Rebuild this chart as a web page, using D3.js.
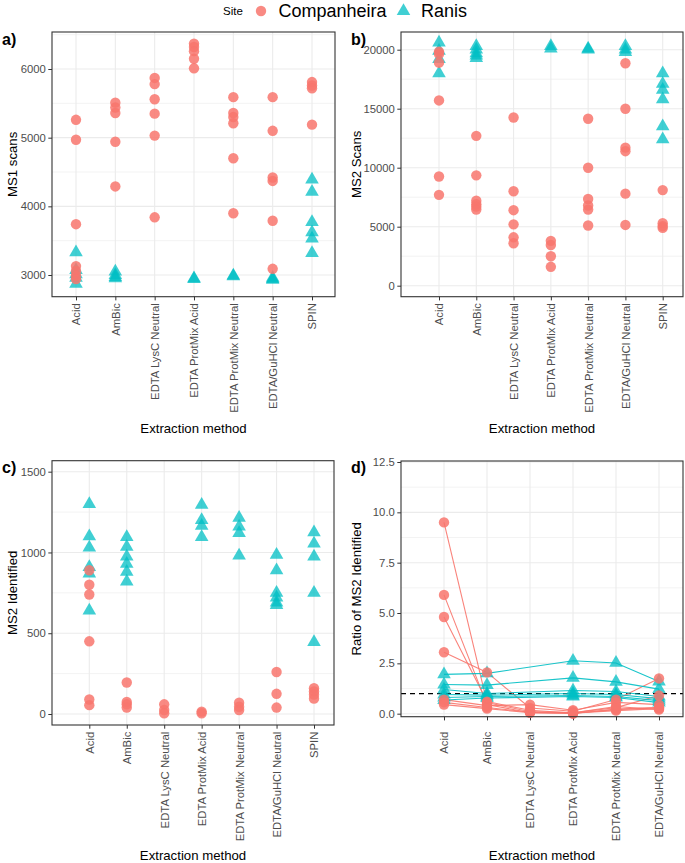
<!DOCTYPE html>
<html lang="en">
<head>
<meta charset="UTF-8" />
<title>Extraction methods</title>
<script src="https://d3js.org/d3.v7.min.js"></script>
<style>
  body { margin: 0; background: #fff; }
  svg text { font-family: "Liberation Sans", Arial, sans-serif; }
  .tick text { fill: #4d4d4d; font-size: 11.3px; }
  .tick line { stroke: #333; }
  .domain { display: none; }
</style>
</head>
<body>
<script>
const methods = ["Acid", "AmBic", "EDTA LysC Neutral", "EDTA ProtMix Acid", "EDTA ProtMix Neutral", "EDTA/GuHCl Neutral", "SPIN"];
const ratioMethods = methods.slice(0, 6);
const sites = ["Companheira", "Ranis"];
const colors = ["#F8766D", "#00BFC4"];

// a) MS1 scans, one list per method
const ms1Comp = [
  [5260, 4970, 3740, 3130, 3060, 2990, 2940],
  [5510, 5440, 5360, 4940, 4290],
  [5870, 5780, 5560, 5350, 5030, 3840],
  [6370, 6320, 6260, 6150, 6010],
  [5590, 5360, 5300, 5210, 4700, 3900],
  [5590, 5100, 4420, 4370, 3790, 3090],
  [5810, 5760, 5720, 5190]
];
const ms1Ranis = [
  [3330, 3070, 3010, 2960, 2870],
  [3050, 3000, 2970, 2950],
  [],
  [2950, 2940],
  [2990, 2980],
  [2960, 2940, 2930],
  [4390, 4210, 3770, 3620, 3530, 3320]
];

// b) MS2 scans
const ms2Comp = [
  [19840, 19640, 18900, 15700, 9250, 7700],
  [12700, 9350, 7200, 6900, 6700, 6450],
  [14250, 8000, 6400, 5200, 4100, 3600],
  [3800, 3450, 2500, 1600],
  [14150, 10000, 7350, 6800, 6450, 5100],
  [18850, 15000, 11700, 11400, 7800, 5150],
  [8100, 5300, 5050, 4900]
];
const ms2Ranis = [
  [20600, 19900, 19200, 18000],
  [20300, 20000, 19700, 19500, 19300],
  [],
  [20300, 20100],
  [20100, 20000],
  [20300, 20000, 19800],
  [18000, 17100, 16600, 15800, 13500, 12400]
];

// c) MS2 identified
const idComp = [
  [890, 800, 740, 450, 90, 55],
  [195, 75, 60, 40],
  [60, 25, 5],
  [15, 5],
  [70, 45, 25],
  [260, 125, 40],
  [160, 140, 120, 95]
];
const idRanis = [
  [1300, 1100, 1030, 910, 870, 640],
  [1095, 1035, 975, 930, 880, 820],
  [],
  [1295, 1200, 1165, 1095],
  [1215, 1160, 1120, 980],
  [985, 890, 750, 720, 690, 675],
  [1125, 1055, 975, 750, 445]
];

// d) ratio, one list per sample across ratioMethods
const ratioComp = [
  [9.5, 0.55, 0.1, 0.05, 0.3, 0.9],
  [5.9, 0.45, 0.05, 0.02, 0.2, 0.3],
  [4.8, 0.6, 0.17, 0.03, 0.15, 0.25],
  [3.05, 2.05, 0.28, 0.12, 0.7, 1.75],
  [0.7, 0.4, 0.45, 0.17, 0.56, 0.45],
  [0.56, 0.31, 0.07, 0.04, 0.36, 0.2],
  [0.45, 0.25, 0.05, 0.01, 0.23, 0.31]
];
const ratioRanis = [
  [1.95, 2.0, null, 2.63, 2.52, 1.6],
  [1.45, 1.42, null, 1.78, 1.58, 1.22],
  [1.2, 1.0, null, 1.15, 1.1, 0.85],
  [0.95, 0.92, null, 1.0, 0.95, 0.75],
  [0.8, 0.85, null, 0.9, 0.85, 0.65],
  [0.68, 0.78, null, 0.85, 0.8, 0.55]
];

const svg = d3.select("body").append("svg").attr("width", 685).attr("height", 863);
const tri = d3.symbol().type(d3.symbolTriangle).size(80);

function mark(sel, site) {
  if (site === 0) {
    sel.append("circle").attr("r", 5.2).attr("fill", colors[0]).attr("fill-opacity", 0.85);
  } else {
    sel.append("path").attr("d", tri).attr("fill", colors[1]).attr("fill-opacity", 0.75);
  }
}

function panel(o) {
  const g = svg.append("g").attr("transform", `translate(${o.x},${o.y})`);
  const x = d3.scalePoint().domain(o.cats).range(o.xr);
  const y = d3.scaleLinear().domain(o.yd).range([o.h, 0]);

  g.append("g").selectAll("line").data(o.minor).join("line")
    .attr("x1", 0).attr("x2", o.w).attr("y1", d => y(d)).attr("y2", d => y(d))
    .attr("stroke", "#ebebeb").attr("stroke-width", 0.6);
  g.append("g").selectAll("line").data(o.ticks).join("line")
    .attr("x1", 0).attr("x2", o.w).attr("y1", d => y(d)).attr("y2", d => y(d))
    .attr("stroke", "#ebebeb").attr("stroke-width", 1.1);
  g.append("g").selectAll("line").data(o.cats).join("line")
    .attr("x1", d => x(d)).attr("x2", d => x(d)).attr("y1", 0).attr("y2", o.h)
    .attr("stroke", "#ebebeb").attr("stroke-width", 1.1);

  g.append("g").call(d3.axisLeft(y).tickValues(o.ticks).tickFormat(o.fmt).tickSize(3.7).tickPadding(2.5));
  const xa = g.append("g").attr("transform", `translate(0,${o.h})`)
    .call(d3.axisBottom(x).tickSize(3.7));
  xa.selectAll("text")
    .attr("transform", "rotate(-90)").attr("x", -o.lab).attr("y", 0)
    .attr("dy", "0.35em").attr("text-anchor", "end");

  if (o.ref != null) {
    g.append("line").attr("x1", 0).attr("x2", o.w).attr("y1", y(o.ref)).attr("y2", y(o.ref))
      .attr("stroke", "#000").attr("stroke-width", 1.3).attr("stroke-dasharray", "5,4");
  }

  if (o.lines) {
    o.lines.forEach((set, s) => {
      const line = d3.line().x(d => x(d[0])).y(d => y(d[1]));
      g.append("g").selectAll("path").data(set).join("path")
        .attr("d", row => line(row.map((v, i) => [o.cats[i], v]).filter(d => d[1] != null)))
        .attr("fill", "none").attr("stroke", colors[s]).attr("stroke-width", 1.1)
        .attr("stroke-opacity", 0.9);
    });
  }

  // Ranis first, Companheira drawn on top
  [1, 0].forEach(s => {
    const pts = [];
    o.series[s].forEach((vals, i) => vals.forEach(v => { if (v != null) pts.push([o.ptCat(i, vals), v]); }));
    g.append("g").selectAll("g").data(pts).join("g")
      .attr("transform", d => `translate(${x(d[0])},${y(d[1])})`)
      .call(sel => mark(sel, s));
  });

  g.append("rect").attr("width", o.w).attr("height", o.h)
    .attr("fill", "none").attr("stroke", "#333").attr("stroke-width", 1.1);

  svg.append("text").attr("transform", `translate(${o.tx},${o.y + o.h / 2}) rotate(-90)`)
    .attr("text-anchor", "middle").attr("dy", "0.35em").attr("font-size", 13.2).text(o.ytitle);
  svg.append("text").attr("x", o.x + o.w / 2).attr("y", o.xty)
    .attr("text-anchor", "middle").attr("font-size", 13.2).text("Extraction method");
  svg.append("text").attr("x", o.px).attr("y", o.py).attr("font-size", 16)
    .attr("font-weight", "bold").text(o.tag);
}

const byMethod = i => methods[i];

panel({
  x: 52, y: 32, w: 283, h: 264.7, cats: methods, xr: [24, 260],
  yd: [2684, 6539], ticks: [3000, 4000, 5000, 6000], minor: [3500, 4500, 5500, 6500],
  fmt: d3.format("d"), series: [ms1Comp, ms1Ranis], ptCat: byMethod, lab: 6.5,
  ytitle: "MS1 scans", tx: 12, xty: 433, tag: "a)", px: 2, py: 45
});

panel({
  x: 401, y: 32, w: 282, h: 264.7, cats: methods, xr: [38, 261.7],
  yd: [-932, 21500], ticks: [0, 5000, 10000, 15000, 20000], minor: [2500, 7500, 12500, 17500],
  fmt: d3.format("d"), series: [ms2Comp, ms2Ranis], ptCat: byMethod, lab: 6.5,
  ytitle: "MS2 Scans", tx: 356, xty: 433, tag: "b)", px: 351, py: 45
});

panel({
  x: 52, y: 460.7, w: 282, h: 264.3, cats: methods, xr: [37.3, 262],
  yd: [-68, 1568], ticks: [0, 500, 1000, 1500], minor: [250, 750, 1250],
  fmt: d3.format("d"), series: [idComp, idRanis], ptCat: byMethod, lab: 6.7,
  ytitle: "MS2 Identified", tx: 12, xty: 859.5, tag: "c)", px: 2, py: 473
});

// for ratio panel, points come from samples: flip to per-method
const perMethod = rows => ratioMethods.map((m, i) => rows.map(r => r[i]));
panel({
  x: 401, y: 461, w: 282, h: 255.7, cats: ratioMethods, xr: [43, 258],
  yd: [-0.15, 12.55], ticks: [0, 2.5, 5, 7.5, 10, 12.5], minor: [1.25, 3.75, 6.25, 8.75, 11.25],
  fmt: d3.format(".1f"), series: [perMethod(ratioComp), perMethod(ratioRanis)],
  ptCat: i => ratioMethods[i], lab: 15, lines: [ratioComp, ratioRanis], ref: 1,
  ytitle: "Ratio of MS2 Identified", tx: 356, xty: 859.5, tag: "d)", px: 351, py: 473
});

// legend
const lg = svg.append("g");
lg.append("text").attr("x", 223).attr("y", 11).attr("dy", "0.35em").attr("font-size", 11.5).text("Site");
const items = lg.selectAll("g.item").data(sites).join("g").attr("class", "item")
  .attr("transform", (d, i) => `translate(${[261, 403.5][i]},11)`);
items.each(function(d, i) { mark(d3.select(this), i); });
items.append("text").attr("x", 17.5).attr("dy", "0.35em").attr("font-size", 18).text(d => d);
</script>
</body>
</html>
